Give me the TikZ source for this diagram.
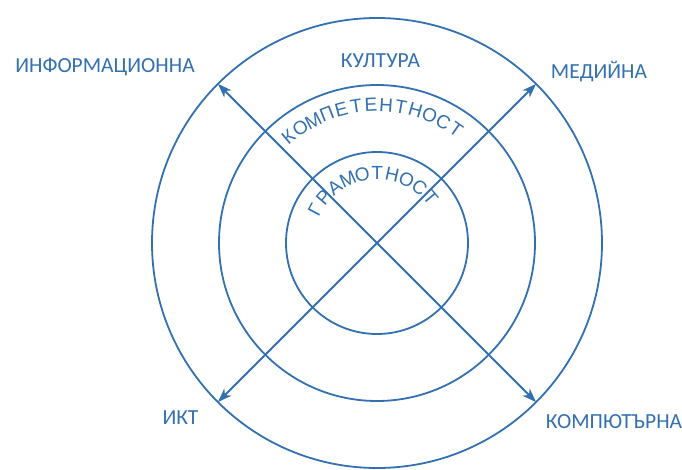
\documentclass[tikz,border=0pt]{standalone}
\usepackage{fontspec}
\setmainfont{Carlito}
\newfontfamily\arcfont{Liberation Sans}
\usetikzlibrary{arrows.meta}
\definecolor{ringblue}{RGB}{50,112,176}

\begin{document}
\begin{tikzpicture}[x=1pt,y=1pt,color=ringblue,line width=1.8pt]
        \useasboundingbox (-377,-226) rectangle (305,243);
        \coordinate (c) at (0,0);
        \draw (c) circle[radius=91pt] (c) circle[radius=158pt] (c) circle[radius=225pt];
        \coordinate (ne) at (45:225);
        \coordinate (nw) at (135:225);
        \coordinate (sw) at (225:225);
        \coordinate (se) at (315:225);
        \begin{scope}[every edge/.style={draw,-{Stealth[length=14pt,width=10pt,inset=4pt]}}]
            \path
                (c) edge (ne)
                (c) edge (nw)
                (c) edge (sw)
                (c) edge (se);
        \end{scope}
        \begin{scope}[every node/.style={font=\fontsize{21.5}{23}\selectfont,inner sep=0pt}]
            \node (inf) at (-272,176) {ИНФОРМАЦИОННА};
            \node (kult) at (3.5,182) {КУЛТУРА};
            \node (med) at (222,171) {МЕДИЙНА};
            \node (ikt) at (-196.5,-175) {ИКТ};
            \node (komp) at (237,-179) {КОМПЮТЪРНА};
        \end{scope}
        \begin{scope}[every node/.style={font=\arcfont\fontsize{19}{20}\selectfont,inner sep=0pt}]
            \foreach \ch [count=\i] in {К,О,М,П,Е,Т,Е,Н,Т,Н,О,С,Т}
                \node (k\i) [rotate=46.25-6.25*\i] at ({136.25-6.25*\i}:138) {\ch};
            \foreach \ch [count=\i] in {Г,Р,А,М,О,Т,Н,О,С,Т}
                \node (g\i) [rotate=74.44-12.44*\i] at ({164.44-12.44*\i}:70) {\ch};
        \end{scope}
\end{tikzpicture}
\end{document}
